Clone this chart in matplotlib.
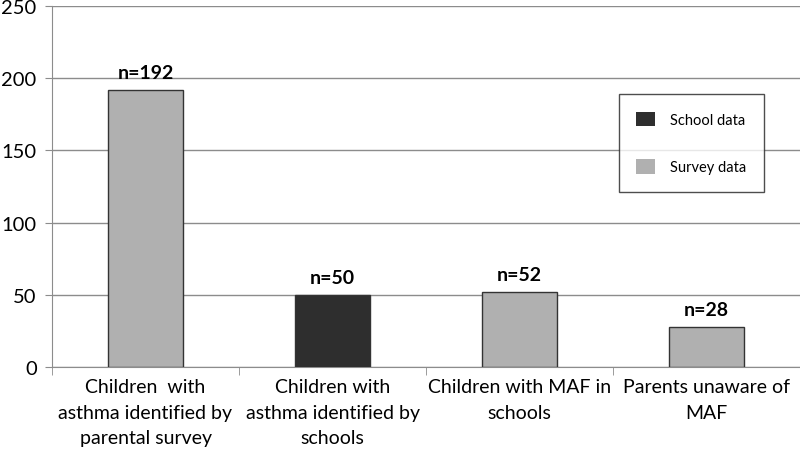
import numpy as np
import matplotlib.pyplot as plt
from matplotlib.patches import Patch

categories = ["Children  with\nasthma identified by\nparental survey",
              "Children with\nasthma identified by\nschools",
              "Children with MAF in\nschools",
              "Parents unaware of\nMAF"]
values = [192, 50, 52, 28]
sources = ["Survey data", "School data", "Survey data", "Survey data"]
labels = ["n=192", "n=50", "n=52", "n=28"]

colors = {"School data": "#2e2e2e", "Survey data": "#b0b0b0"}

plt.rcParams['font.family'] = ['Lato', 'DejaVu Sans']

fig = plt.figure(figsize=(8, 4.6), dpi=100)
ax = fig.add_axes([0.065, 0.2, 0.935, 0.785])

x = np.arange(len(categories))
ax.bar(x, values, width=0.4, color=[colors[s] for s in sources],
       edgecolor="#333333", linewidth=1, zorder=3)

for xi, v, lab in zip(x, values, labels):
    ax.text(xi, v + 6, lab, ha="center", va="bottom", fontsize=14,
            fontweight="bold")

ax.set_xlim(-0.5, 3.5)
ax.set_ylim(0, 250)
ax.set_yticks(np.arange(0, 251, 50))
ax.yaxis.grid(True, color="#8c8c8c", linewidth=1, zorder=0)
ax.tick_params(axis="y", labelsize=14.5, length=5, color="#8c8c8c", pad=6)

ax.set_xticks(x)
ax.set_xticklabels(categories, fontsize=14, linespacing=1.6)
ax.tick_params(axis="x", length=0, pad=8)
ax.set_xticks(np.arange(-0.5, 3.6, 1), minor=True)
ax.tick_params(axis="x", which="minor", length=6, color="#8c8c8c")

for side in ["top", "right"]:
    ax.spines[side].set_visible(False)
for side in ["left", "bottom"]:
    ax.spines[side].set_color("#8c8c8c")

handles = [Patch(facecolor=colors[k], edgecolor="none", label=k)
           for k in ["School data", "Survey data"]]
leg = ax.legend(handles=handles, loc="upper left",
                bbox_to_anchor=(0.758, 0.756), fontsize=10.5, frameon=True,
                fancybox=False, edgecolor="#222222", labelspacing=2.2,
                borderpad=1.2, handlelength=1.3, handleheight=1.2,
                handletextpad=1.0, borderaxespad=0)
leg.get_frame().set_linewidth(1)
leg.set_zorder(5)

fig.savefig("out.png", dpi=100)
